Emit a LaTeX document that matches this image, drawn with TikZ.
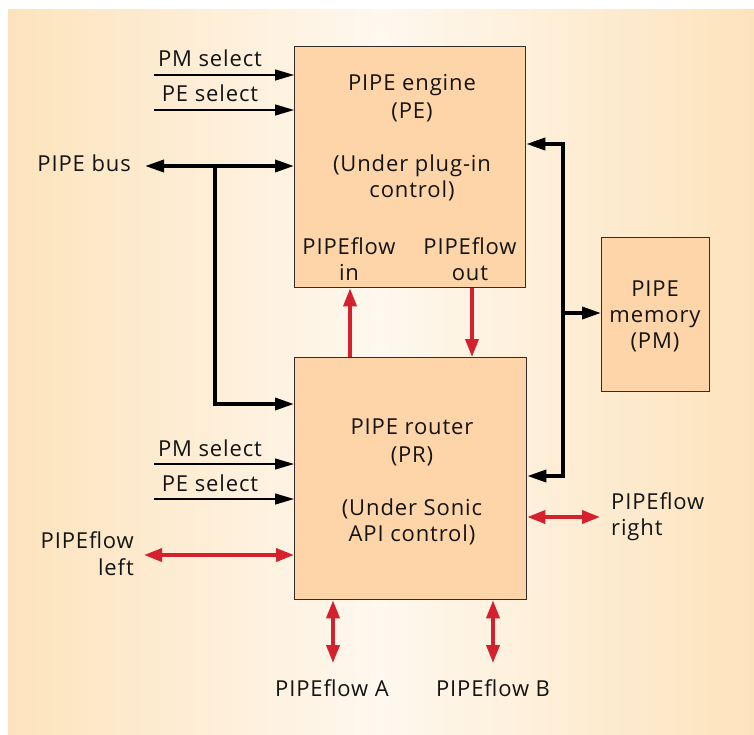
\documentclass[tikz,border=0pt]{standalone}
\usepackage{fontspec}
\setmainfont{Open Sans}[LetterSpace=4]
\usetikzlibrary{arrows.meta}
\definecolor{boxfill}{RGB}{253,213,168}
\definecolor{peach}{RGB}{253,227,188}
\definecolor{lightbg}{RGB}{254,248,239}
\definecolor{flowred}{RGB}{212,33,46}
\definecolor{edge}{RGB}{50,45,40}
\tikzset{
  bustip/.tip={Triangle[length=19pt,width=12pt]},
  redtip/.tip={Triangle[length=18pt,width=13pt]},
  thintip/.tip={Triangle[length=19pt,width=11pt]}
}
\begin{document}
\begin{tikzpicture}[x=1pt,y=-1pt,
  box/.style={draw=edge, line width=1.3pt, fill=boxfill, inner sep=0pt, anchor=north west},
  lbl/.style={font=\fontsize{22}{27}\selectfont, inner sep=0pt, text=black!92},
  thinarrow/.style={line width=1.3pt, -{thintip}},
  bus/.style={line width=3.6pt},
  flow/.style={line width=3.6pt, draw=flowred, fill=flowred}]
\path[use as bounding box] (0,0) rectangle (754,734);
\fill[left color=peach, right color=lightbg] (8,9) rectangle (381,734);
\fill[left color=lightbg, right color=peach] (380.5,9) rectangle (754,734);

% boxes
\node[box, minimum width=231pt, minimum height=241pt] (PE) at (294,46) {};
\node[box, minimum width=232pt, minimum height=242pt] (PR) at (294,357) {};
\node[box, minimum width=108pt, minimum height=154pt] (PM) at (601,237) {};

% box texts
\node[lbl, anchor=base] (pe1) at (412,90) {PIPE engine};
\node[lbl, anchor=base] (pe2) at (412,118) {(PE)};
\node[lbl, anchor=base] (pe3) at (412,171) {(Under plug-in};
\node[lbl, anchor=base] (pe4) at (412,197) {control)};
\node[lbl, anchor=base] (pein1) at (349,254) {PIPEflow};
\node[lbl, anchor=base] (pein2) at (349,280) {in};
\node[lbl, anchor=base] (peout1) at (470,254) {PIPEflow};
\node[lbl, anchor=base] (peout2) at (470,280) {out};

\node[lbl, anchor=base] (pr1) at (412,434) {PIPE router};
\node[lbl, anchor=base] (pr2) at (412,462) {(PR)};
\node[lbl, anchor=base] (pr3) at (412,515) {(Under Sonic};
\node[lbl, anchor=base] (pr4) at (412,541) {API control)};

\node[lbl, anchor=base] (pm1) at (655,296) {PIPE};
\node[lbl, anchor=base] (pm2) at (655,322) {memory};
\node[lbl, anchor=base] (pm3) at (655,348) {(PM)};

% outside labels
\node[lbl, anchor=base] (lpmA) at (210,66) {PM select};
\node[lbl, anchor=base] (lpeA) at (210,101) {PE select};
\node[lbl, anchor=base east] (lbus) at (131,171) {PIPE bus};
\node[lbl, anchor=base] (lpmB) at (210,456) {PM select};
\node[lbl, anchor=base] (lpeB) at (210,491) {PE select};
\node[lbl, anchor=base east] (lleft1) at (134,548) {PIPEflow};
\node[lbl, anchor=base east] (lleft2) at (134,575) {left};
\node[lbl, anchor=base west] (lright1) at (611,509) {PIPEflow};
\node[lbl, anchor=base west] (lright2) at (611,535) {right};
\node[lbl, anchor=base] (lA) at (332,696) {PIPEflow A};
\node[lbl, anchor=base] (lB) at (493,696) {PIPEflow B};

% coordinates
\coordinate (pmselA) at (154,75);
\coordinate (peselA) at (154,110);
\coordinate (pmselB) at (154,464);
\coordinate (peselB) at (154,499);
\coordinate (busL) at (145,166);
\coordinate (busJ) at (215,166);
\coordinate (busK) at (215,404);
\coordinate (rbT) at (563,144);
\coordinate (rbB) at (563,476);
\coordinate (rbM) at (563,313);
\coordinate (fin) at (350,0);
\coordinate (fout) at (472,0);
\coordinate (fleft) at (144,555);
\coordinate (fright) at (600,517);
\coordinate (fA) at (333,663);
\coordinate (fB) at (493,663);

% thin select arrows
\draw[thinarrow] (pmselA) -- (pmselA -| PE.west);
\draw[thinarrow] (peselA) -- (peselA -| PE.west);
\draw[thinarrow] (pmselB) -- (pmselB -| PR.west);
\draw[thinarrow] (peselB) -- (peselB -| PR.west);

% black buses
\draw[bus, {bustip}-{bustip}] (busL) -- (busL -| PE.west);
\draw[bus, -{bustip}] (busJ) -- (busK) -- (busK -| PR.west);
\draw[bus, {bustip}-{bustip}] (rbT -| PE.east) -- (rbT) -- (rbB) -- (rbB -| PR.east);
\draw[bus, -{bustip}] (rbM) -- (rbM -| PM.west);

% red flows
\draw[flow, -{redtip}] (fin |- PR.north) -- (fin |- PE.south);
\draw[flow, -{redtip}] (fout |- PE.south) -- (fout |- PR.north);
\draw[flow, {redtip}-{redtip}] (fleft) -- (fleft -| PR.west);
\draw[flow, {redtip}-{redtip}] (fright -| PR.east) -- (fright);
\draw[flow, {redtip}-{redtip}] (fA |- PR.south) -- (fA);
\draw[flow, {redtip}-{redtip}] (fB |- PR.south) -- (fB);
\end{tikzpicture}
\end{document}
